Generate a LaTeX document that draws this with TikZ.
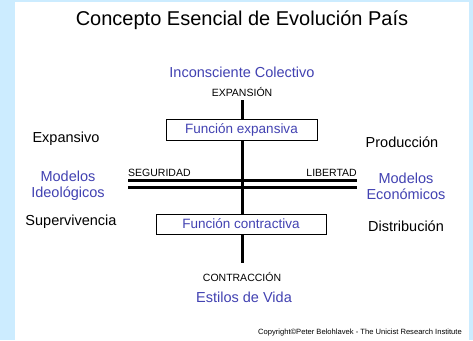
\documentclass[tikz,border=0pt]{standalone}
\usepackage{fontspec}
\setmainfont{Liberation Sans}
\definecolor{bgblue}{RGB}{204,236,255}
\definecolor{txtblue}{RGB}{66,66,178}
\begin{document}
\begin{tikzpicture}[x=1pt,y=-1pt,
  lbl/.style={inner sep=0pt, font=\fontsize{14.5}{16}\selectfont},
  bluelbl/.style={lbl, text=txtblue, align=center},
  caps/.style={inner sep=0pt, font=\fontsize{10.5}{12}\selectfont},
  fbox/.style={draw=black, line width=0.8pt, fill=white, inner sep=0pt, text=txtblue, font=\fontsize{13.5}{15}\selectfont},
  axis/.style={line width=3pt, black}]
\useasboundingbox (0,0) rectangle (473,340);
\fill[bgblue] (0,0) rectangle (473,340);
\fill[white] (15,2) rectangle (469,340);
% title
\node[inner sep=0pt, font=\fontsize{20}{22}\selectfont] (title) at (242,20) {Concepto Esencial de Evolución País};
\node[bluelbl] (incons) at (242,72) {Inconsciente Colectivo};
\node[caps] (expan) at (242,92) {EXPANSIÓN};
% axes
\coordinate (vtop) at (242,100);
\coordinate (vbot) at (242,263);
\coordinate (hl1) at (128,180.5);
\coordinate (hr1) at (357,180.5);
\coordinate (hl2) at (128,187);
\coordinate (hr2) at (357,187);
\draw[axis] (vtop) -- (vbot);
\draw[axis] (hl1) -- (hr1);
\draw[axis] (hl2) -- (hr2);
% boxes
\node[fbox, minimum width=151pt, minimum height=21pt] (fexp) at (241.5,129.5) {Función expansiva};
\node[fbox, minimum width=170pt, minimum height=20pt] (fcon) at (241,224) {Función contractiva};
% axis labels
\node[caps, anchor=base west] (seg) at (128,176) {SEGURIDAD};
\node[caps, anchor=base east] (lib) at (357,176) {LIBERTAD};
% left side
\node[lbl] (expv) at (66,139) {Expansivo};
\node[bluelbl] (modid) at (68,186) {Modelos\\Ideológicos};
\node[lbl] (superv) at (71,222) {Supervivencia};
% right side
\node[lbl] (prod) at (402,142) {Producción};
\node[bluelbl] (modec) at (406,186) {Modelos\\Económicos};
\node[lbl] (distr) at (406,226) {Distribución};
% bottom
\node[caps] (contr) at (242,277) {CONTRACCIÓN};
\node[bluelbl] (estilos) at (244,297) {Estilos de Vida};
\node[inner sep=0pt, anchor=east, font=\fontsize{7.6}{8.5}\selectfont] (copy) at (462,333) {Copyright©Peter Belohlavek - The Unicist Research Institute};
\end{tikzpicture}
\end{document}
